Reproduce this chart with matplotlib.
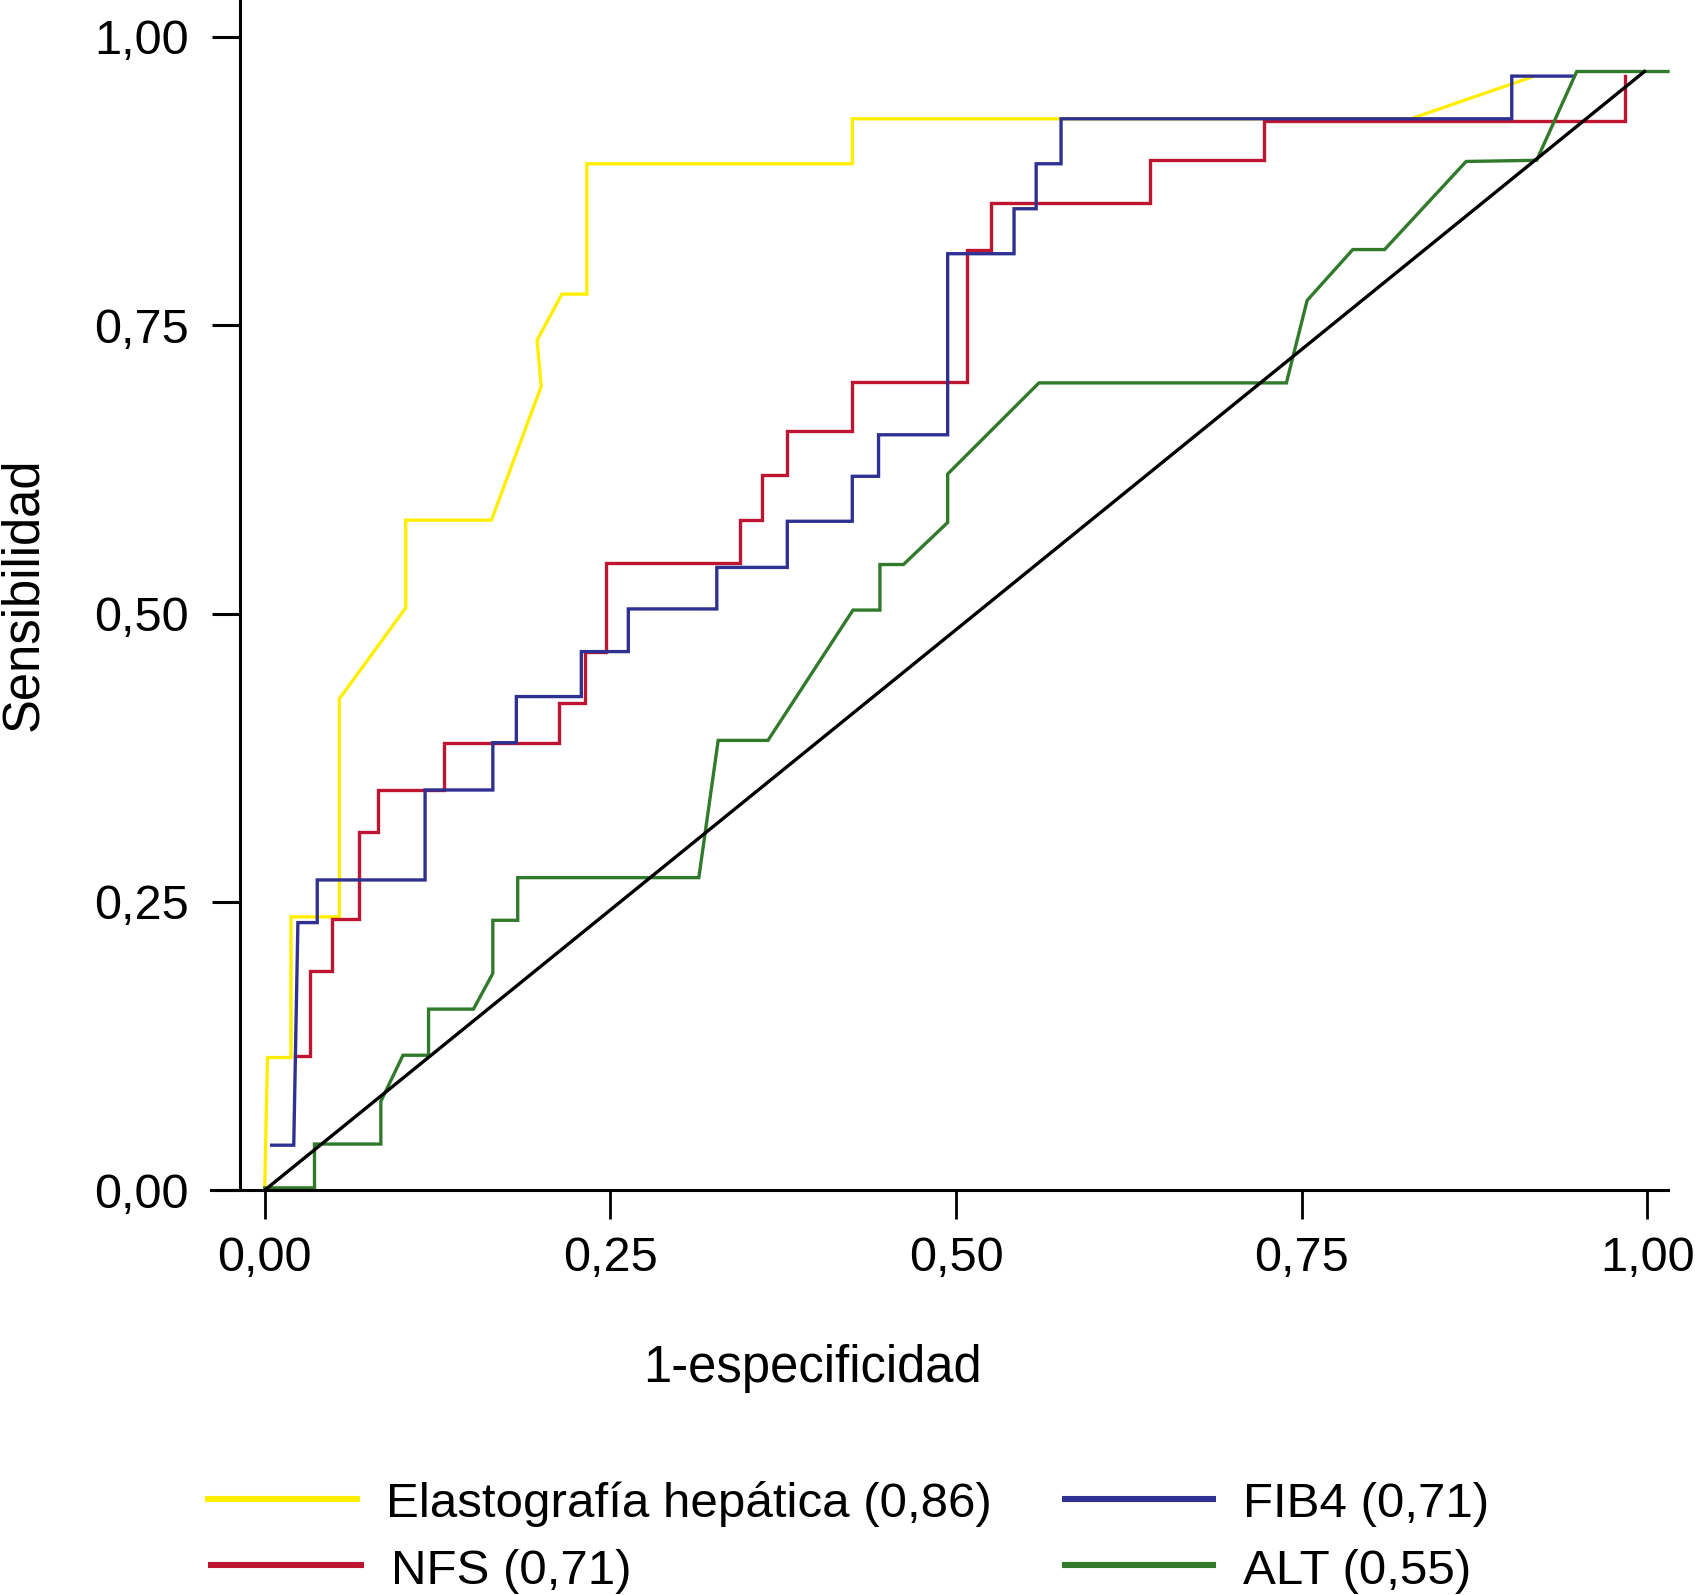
import matplotlib
matplotlib.use("Agg")
import matplotlib.pyplot as plt
from matplotlib.lines import Line2D

plt.rcParams['font.family'] = ['Liberation Sans', 'DejaVu Sans']

# ---- data ----
elasto_x = [0.000, 0.002, 0.019, 0.019, 0.054, 0.054, 0.102, 0.102, 0.164, 0.200, 0.197, 0.215, 0.233, 0.233, 0.425, 0.425, 0.829, 0.916]
elasto_y = [0.000, 0.115, 0.115, 0.237, 0.237, 0.426, 0.505, 0.581, 0.581, 0.697, 0.737, 0.777, 0.777, 0.890, 0.890, 0.929, 0.929, 0.965]

nfs_x = [0.022, 0.033, 0.033, 0.049, 0.049, 0.068, 0.068, 0.082, 0.082, 0.130, 0.130, 0.213, 0.213, 0.232, 0.232, 0.247, 0.247,
         0.344, 0.344, 0.360, 0.360, 0.378, 0.378, 0.425, 0.425, 0.508, 0.508, 0.525, 0.525, 0.640, 0.640, 0.723, 0.723, 0.984, 0.984]
nfs_y = [0.116, 0.116, 0.190, 0.190, 0.235, 0.235, 0.311, 0.311, 0.347, 0.347, 0.388, 0.388, 0.422, 0.422, 0.467, 0.467, 0.544,
         0.544, 0.581, 0.581, 0.620, 0.620, 0.658, 0.658, 0.701, 0.701, 0.815, 0.815, 0.856, 0.856, 0.893, 0.893, 0.927, 0.927, 0.966]

fib4_x = [0.005, 0.021, 0.024, 0.038, 0.038, 0.116, 0.116, 0.165, 0.165, 0.182, 0.182, 0.229, 0.229, 0.263, 0.263, 0.327, 0.327,
          0.378, 0.378, 0.425, 0.425, 0.444, 0.444, 0.494, 0.494, 0.542, 0.542, 0.558, 0.558, 0.576, 0.576, 0.902, 0.902, 0.947]
fib4_y = [0.039, 0.039, 0.232, 0.232, 0.269, 0.269, 0.347, 0.347, 0.388, 0.388, 0.428, 0.428, 0.467, 0.467, 0.504, 0.504, 0.540,
          0.540, 0.580, 0.580, 0.619, 0.619, 0.655, 0.655, 0.812, 0.812, 0.851, 0.851, 0.890, 0.890, 0.929, 0.929, 0.966, 0.966]

alt_x = [0.000, 0.036, 0.036, 0.084, 0.084, 0.100, 0.1185, 0.1185, 0.151, 0.165, 0.165, 0.183, 0.183, 0.314, 0.328, 0.364,
         0.4255, 0.445, 0.445, 0.462, 0.494, 0.494, 0.560, 0.739, 0.754, 0.787, 0.810, 0.869, 0.920, 0.949, 1.015]
alt_y = [0.002, 0.002, 0.040, 0.040, 0.077, 0.117, 0.117, 0.157, 0.157, 0.188, 0.234, 0.234, 0.271, 0.271, 0.390, 0.390,
         0.503, 0.503, 0.5425, 0.5425, 0.579, 0.621, 0.700, 0.700, 0.7715, 0.8156, 0.8156, 0.892, 0.893, 0.970, 0.970]

ref_x = [0.0, 0.998]
ref_y = [0.0, 0.970]

tick_vals = [0.00, 0.25, 0.50, 0.75, 1.00]
tick_labels = ['0,00', '0,25', '0,50', '0,75', '1,00']

series_names = ['Elastografía hepática (0,86)', 'FIB4 (0,71)', 'NFS (0,71)', 'ALT (0,55)']

c_yellow = '#FFEE00'
c_red = '#BE1530'
c_blue = '#2E3192'
c_green = '#317A2C'

# ---- figure ----
W, H = 1568.0, 1475.5
fig = plt.figure(figsize=(16.95, 15.95), dpi=100)
ax = fig.add_axes([195 / W, 1 - 1101 / H, (1543 - 195) / W, 1101 / H])
ax.set_xlim(-0.039, 1.015)
ax.set_ylim(0, 1.032)

lw = 2.4
ax.plot(elasto_x, elasto_y, color=c_yellow, lw=lw, clip_on=False, solid_joinstyle='miter')
ax.plot(nfs_x, nfs_y, color=c_red, lw=lw, clip_on=False, solid_joinstyle='miter')
ax.plot(fib4_x, fib4_y, color=c_blue, lw=lw, clip_on=False, solid_joinstyle='miter')
ax.plot(alt_x, alt_y, color=c_green, lw=lw, clip_on=False, solid_joinstyle='miter')
ax.plot(ref_x, ref_y, color='black', lw=lw, clip_on=False)

for s in ['top', 'right']:
    ax.spines[s].set_visible(False)
ax.spines['left'].set_position(('data', -0.018))
ax.spines['left'].set_linewidth(2.2)
ax.spines['bottom'].set_linewidth(2.2)

ax.set_xticks(tick_vals)
ax.set_xticklabels(tick_labels)
ax.set_yticks(tick_vals)
ax.set_yticklabels(tick_labels)
ax.tick_params(axis='x', direction='out', length=21, width=2.0, pad=12, labelsize=35)
ax.tick_params(axis='y', direction='out', length=20, width=2.2, pad=17, labelsize=35)

fig.text(752 / W, 1 - 1278 / H, '1-especificidad', ha='center', va='baseline', fontsize=36.5)
fig.text(0.014, 1 - 550 / H, 'Sensibilidad', ha='center', va='center', rotation=90, fontsize=36.5)

# legend (manual, two columns)
leg = [
    (series_names[0], c_yellow, 190, 333, 357, 1387, 1403),
    (series_names[1], c_blue, 982, 1125, 1150, 1387, 1403),
    (series_names[2], c_red, 192, 337, 362, 1448, 1465),
    (series_names[3], c_green, 982, 1125, 1150, 1448, 1465),
]
for name, col, x0, x1, xt, yl, yb in leg:
    fig.add_artist(Line2D([x0 / W, x1 / W], [1 - yl / H, 1 - yl / H], transform=fig.transFigure,
                          color=col, lw=4.4, solid_capstyle='butt'))
    fig.text(xt / W, 1 - yb / H, name, ha='left', va='baseline', fontsize=35.5)

fig.savefig('out.png', dpi=100, facecolor='white')
